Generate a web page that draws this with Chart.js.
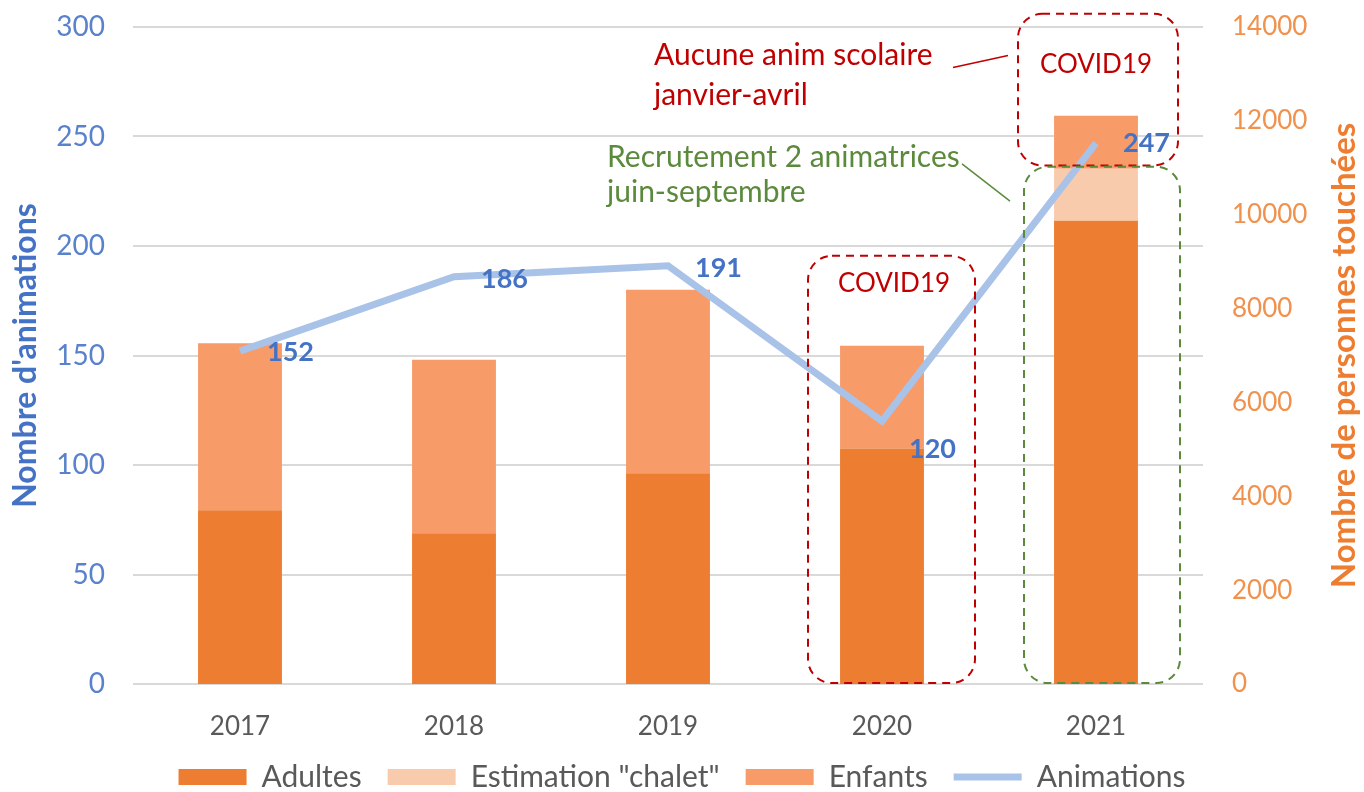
<!DOCTYPE html>
<html lang="fr">
<head>
<meta charset="utf-8">
<title>Animations et personnes touchées</title>
<script src="https://cdn.jsdelivr.net/npm/chart.js@4.4.1/dist/chart.umd.min.js"></script>
<style>
  html, body { margin: 0; padding: 0; background: #fff; }
  #wrap { width: 1364px; height: 792px; }
</style>
</head>
<body>
<div id="wrap"><canvas id="graphique"></canvas></div>
<script>
const annees = ["2017", "2018", "2019", "2020", "2021"];
const adultes = [3700, 3210, 4490, 5020, 9870];
const chalet = [0, 0, 0, 0, 1110];
const enfants = [3560, 3700, 3910, 2190, 1130];
const animations = [152, 186, 191, 120, 247];
const ticksAnimations = [0, 50, 100, 150, 200, 250, 300];
const ticksPersonnes = [0, 2000, 4000, 6000, 8000, 10000, 12000, 14000];

const police = "Lato, 'Open Sans', sans-serif";
const rouge = "#C00000";
const vert = "#5B8A3C";
const ordreLegende = ["Adultes", "Estimation \"chalet\"", "Enfants", "Animations"];

// decalage vertical des etiquettes de la courbe (px)
const decalageEtiquettes = [1, 3, 3, 28, 0];

// cadres pointilles : [index annee, dx gauche, dx droite, valeur haut, valeur bas] (axe de gauche)
const cadres = [
  { i: 3, g: -74, d: 93, haut: 195.5, bas: 0.4, couleur: rouge },
  { i: 4, g: -78, d: 82, haut: 306, bas: 236.8, couleur: rouge },
  { i: 4, g: -72, d: 84, haut: 236.2, bas: 0.4, couleur: vert }
];

const annotations = {
  id: "annotations",
  afterDatasetsDraw(chart) {
    const ctx = chart.ctx;
    const x = chart.scales.x, y = chart.scales.y;
    const px = (i, dx) => x.getPixelForValue(i) + dx;
    const py = v => y.getPixelForValue(v);

    // etiquettes de la courbe
    ctx.save();
    ctx.font = "bold 27px " + police;
    ctx.fillStyle = "#4472C4";
    ctx.textAlign = "left";
    ctx.textBaseline = "middle";
    animations.forEach((v, i) => {
      ctx.fillText(String(v), px(i, 27), py(v) + decalageEtiquettes[i]);
    });
    ctx.restore();

    // cadres
    cadres.forEach(c => {
      const x0 = px(c.i, c.g), x1 = px(c.i, c.d);
      const y0 = py(c.haut), y1 = py(c.bas);
      ctx.save();
      ctx.strokeStyle = c.couleur;
      ctx.lineWidth = 2;
      ctx.setLineDash([8, 6]);
      ctx.beginPath();
      ctx.roundRect(x0, y0, x1 - x0, y1 - y0, 24);
      ctx.stroke();
      ctx.restore();
    });

    // textes
    ctx.save();
    ctx.textBaseline = "middle";
    ctx.font = "26px " + police;
    ctx.fillStyle = rouge;
    ctx.textAlign = "center";
    ctx.fillText("COVID19", px(3, 12), py(183));
    ctx.fillText("COVID19", px(4, 0), py(283));
    ctx.font = "30px " + police;
    ctx.textAlign = "left";
    ctx.fillText("Aucune anim scolaire", px(2, -14), py(287));
    ctx.fillText("janvier-avril", px(2, -14), py(269));
    ctx.fillStyle = vert;
    ctx.fillText("Recrutement 2 animatrices", px(2, -61), py(240.5));
    ctx.fillText("juin-septembre", px(2, -61), py(224.5));

    // traits de liaison
    ctx.lineWidth = 1.5;
    ctx.strokeStyle = rouge;
    ctx.beginPath();
    ctx.moveTo(px(4, -143), py(281.5));
    ctx.lineTo(px(4, -88), py(287));
    ctx.stroke();
    ctx.strokeStyle = vert;
    ctx.beginPath();
    ctx.moveTo(px(4, -134), py(237.5));
    ctx.lineTo(px(4, -86), py(220.5));
    ctx.stroke();

    // titre de l'axe de droite (lu de bas en haut)
    const d = chart.scales.y1;
    ctx.translate(1344, (d.top + d.bottom) / 2);
    ctx.rotate(-Math.PI / 2);
    ctx.textAlign = "center";
    ctx.font = "bold 33px " + police;
    ctx.fillStyle = "#ED7D31";
    ctx.fillText("Nombre de personnes touchées", 0, 0);
    ctx.restore();
  }
};

const ctx = document.getElementById("graphique").getContext("2d");
const graphique = new Chart(ctx, {
  data: {
    labels: annees,
    datasets: [
      {
        type: "line",
        label: "Animations",
        data: animations,
        yAxisID: "y",
        borderColor: "#A9C2E8",
        backgroundColor: "#A9C2E8",
        borderWidth: 7,
        pointRadius: 0,
        pointStyle: "line",
        order: 0
      },
      {
        type: "bar",
        label: "Adultes",
        data: adultes,
        yAxisID: "y1",
        backgroundColor: "#ED7D31",
        pointStyle: "rect",
        order: 1
      },
      {
        type: "bar",
        label: "Estimation \"chalet\"",
        data: chalet,
        yAxisID: "y1",
        backgroundColor: "#F8CBAD",
        pointStyle: "rect",
        order: 1
      },
      {
        type: "bar",
        label: "Enfants",
        data: enfants,
        yAxisID: "y1",
        backgroundColor: "#F79B69",
        pointStyle: "rect",
        order: 1
      }
    ]
  },
  options: {
    responsive: true,
    maintainAspectRatio: false,
    animation: false,
    categoryPercentage: 0.8,
    barPercentage: 0.49,
    layout: { padding: { top: 27, left: 0, right: 0, bottom: -10 } },
    plugins: {
      tooltip: { enabled: false },
      legend: {
        position: "bottom",
        labels: {
          font: { family: police, size: 30 },
          color: "#595959",
          usePointStyle: true,
          pointStyleWidth: 68,
          boxHeight: 16,
          padding: 26,
          sort: (a, b) => ordreLegende.indexOf(a.text) - ordreLegende.indexOf(b.text)
        }
      }
    },
    scales: {
      x: {
        stacked: true,
        grid: { display: false, drawTicks: false },
        border: { display: false },
        ticks: { color: "#595959", font: { family: police, size: 26 }, padding: 27 },
        afterFit: s => { s.height = 52; }
      },
      y: {
        position: "left",
        min: 0,
        max: 300,
        afterBuildTicks: s => { s.ticks = ticksAnimations.map(v => ({ value: v })); },
        grid: { color: "#D9D9D9", lineWidth: 2, drawTicks: false },
        border: { display: false },
        ticks: { color: "#5A82CC", font: { family: police, size: 28 }, padding: 28 },
        title: {
          display: true,
          text: "Nombre d'animations",
          color: "#4472C4",
          font: { family: police, size: 32, weight: "bold" },
          padding: { top: 6, bottom: 0 }
        },
        afterFit: s => { s.width = 133; s.paddingTop = 0; s.paddingBottom = 0; }
      },
      y1: {
        position: "right",
        stacked: true,
        min: 0,
        max: 14000,
        afterBuildTicks: s => { s.ticks = ticksPersonnes.map(v => ({ value: v })); },
        grid: { display: false, drawTicks: false },
        border: { display: false },
        ticks: {
          color: "#F0924E",
          font: { family: police, size: 26 },
          padding: 29,
          callback: v => String(v)
        },
        afterFit: s => { s.width = 161; s.paddingTop = 0; s.paddingBottom = 0; }
      }
    }
  },
  plugins: [annotations]
});
</script>
</body>
</html>
